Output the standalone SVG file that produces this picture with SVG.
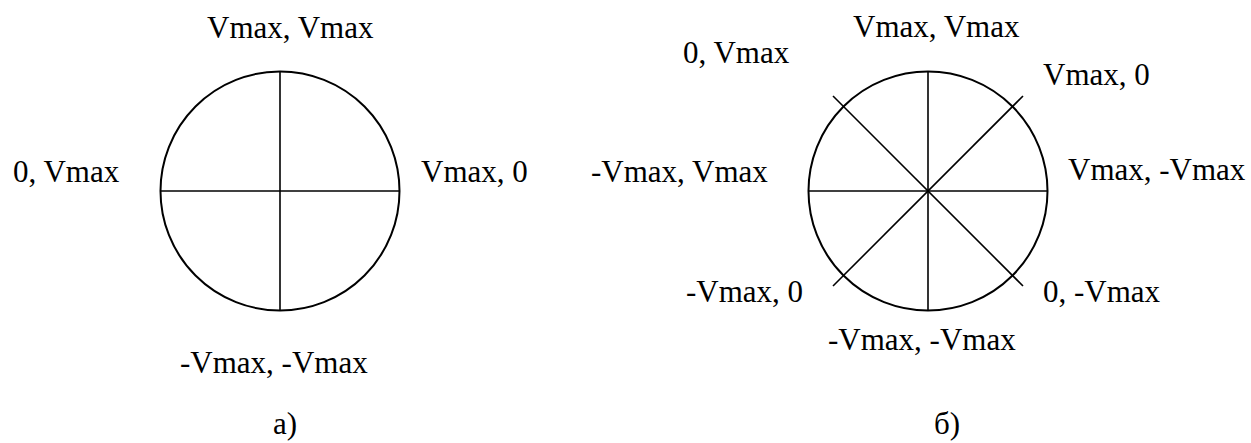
<svg xmlns="http://www.w3.org/2000/svg" width="1251" height="443" viewBox="0 0 1251 443">
<style>
.c{fill:none;stroke:#000;stroke-width:2}
.l{stroke:#000;stroke-width:1.6;fill:none}
.t{font-family:"Liberation Serif","Times New Roman",serif;font-size:31px;fill:#000}
</style>
<rect width="1251" height="443" fill="#fff"/>
<g id="diagram-a">
<circle class="c" cx="280" cy="191" r="119.5"/>
<g id="connectors-a">
<line class="l" x1="280" y1="71.5" x2="280" y2="310.5"/>
<line class="l" x1="160.5" y1="191" x2="399.5" y2="191"/>
</g>
<text class="t" x="207" y="38">Vmax, Vmax</text>
<text class="t" x="13" y="182">0, Vmax</text>
<text class="t" x="421" y="182">Vmax, 0</text>
<text class="t" x="180" y="373">-Vmax, -Vmax</text>
<text class="t" x="273" y="434">а)</text>
</g>
<g id="diagram-b">
<circle class="c" cx="928" cy="191" r="119.5"/>
<g id="connectors-b">
<line class="l" x1="928" y1="71.5" x2="928" y2="310.5"/>
<line class="l" x1="808.5" y1="191" x2="1047.5" y2="191"/>
<line class="l" x1="833" y1="96" x2="1023" y2="286"/>
<line class="l" x1="1023" y1="96" x2="833" y2="286"/>
</g>
<text class="t" x="853" y="37">Vmax, Vmax</text>
<text class="t" x="683" y="63">0, Vmax</text>
<text class="t" x="1043" y="85">Vmax, 0</text>
<text class="t" x="591" y="182">-Vmax, Vmax</text>
<text class="t" x="1068" y="180">Vmax, -Vmax</text>
<text class="t" x="686" y="302">-Vmax, 0</text>
<text class="t" x="1043" y="302">0, -Vmax</text>
<text class="t" x="828" y="350">-Vmax, -Vmax</text>
<text class="t" x="934" y="434">б)</text>
</g>
</svg>
